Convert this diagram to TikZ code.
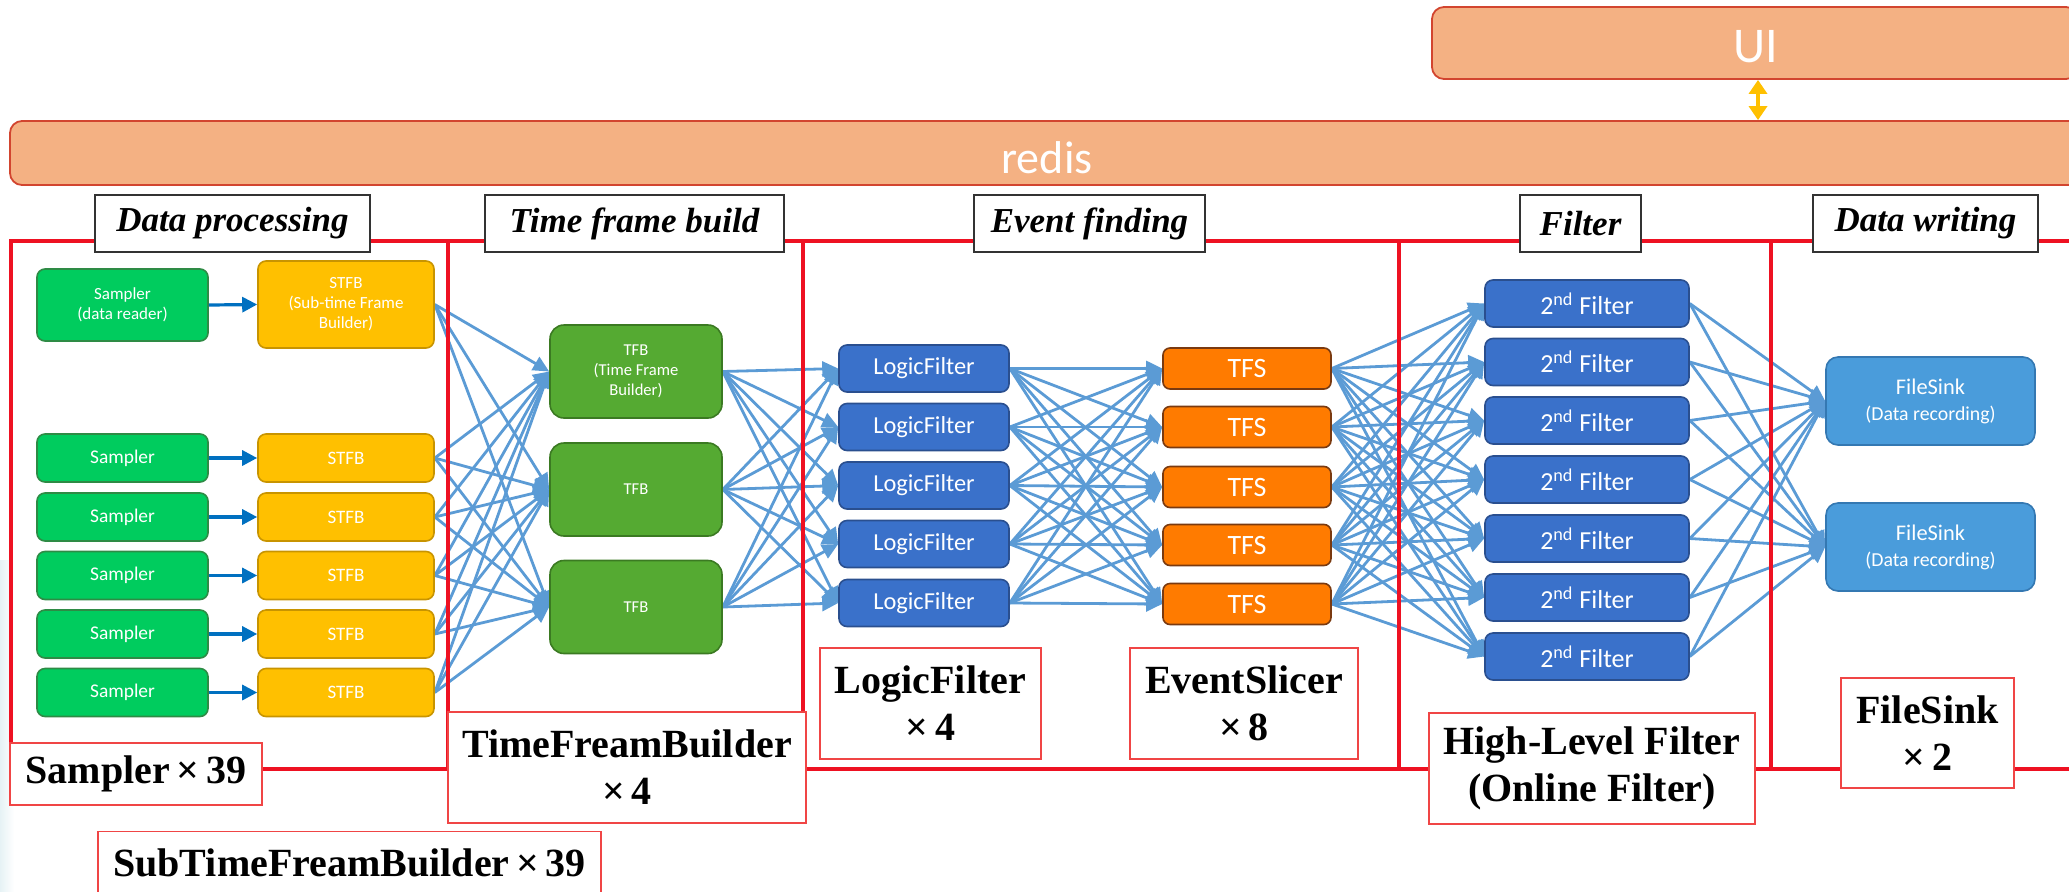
\documentclass[tikz,border=0pt]{standalone}
\usepackage{fontspec}
\setmainfont{Liberation Serif}
\newfontfamily\nodefont{Carlito}
\usetikzlibrary{arrows.meta}
\pgfdeclarelayer{wires}
\pgfdeclarelayer{frame}
\pgfsetlayers{wires,frame,main}

\definecolor{busfill}{HTML}{F4B183}
\definecolor{busline}{HTML}{D2452F}
\definecolor{ygold}{HTML}{FFC000}
\definecolor{sgreen}{HTML}{00CC5E}
\definecolor{sgreenD}{HTML}{2E8B45}
\definecolor{stfbfill}{HTML}{FFC000}
\definecolor{stfbline}{HTML}{C89400}
\definecolor{tgreen}{HTML}{55AA32}
\definecolor{tgreenD}{HTML}{3B7A22}
\definecolor{lblue}{HTML}{3A71CA}
\definecolor{lblueD}{HTML}{2A4F8F}
\definecolor{tfsfill}{HTML}{FF7B00}
\definecolor{tfsline}{HTML}{7A3A10}
\definecolor{fsfill}{HTML}{4A9CDB}
\definecolor{fsline}{HTML}{3478B2}
\definecolor{wire}{HTML}{5B9BD5}
\definecolor{darkwire}{HTML}{0070C0}
\definecolor{framered}{HTML}{EE1122}
\definecolor{labelred}{HTML}{F04545}
\definecolor{edgehaze}{HTML}{E6F2F5}

\tikzset{
  box/.style={rounded corners=4pt, draw, line width=0.8pt, text=white,
    align=center, inner sep=0pt},
  sampler/.style={box, fill=sgreen, draw=sgreenD, minimum width=85.5pt,
    minimum height=24pt, font=\nodefont\fontsize{9.7}{10}\selectfont},
  stfb/.style={box, fill=stfbfill, draw=stfbline, minimum width=88pt,
    minimum height=24pt, font=\nodefont\fontsize{9.5}{10}\selectfont},
  tfb/.style={box, rounded corners=7pt, fill=tgreen, draw=tgreenD,
    minimum width=86pt, minimum height=46.5pt,
    font=\nodefont\fontsize{8.3}{10}\selectfont},
  logic/.style={box, fill=lblue, draw=lblueD, minimum width=85pt,
    minimum height=23.5pt, font=\nodefont\fontsize{12.2}{14}\selectfont},
  tfs/.style={box, rounded corners=3.5pt, fill=tfsfill, draw=tfsline,
    minimum width=84pt, minimum height=20.5pt,
    font=\nodefont\fontsize{14}{16}\selectfont},
  hlf/.style={box, fill=lblue, draw=lblueD, minimum width=102pt,
    minimum height=23.5pt, font=\nodefont\fontsize{13}{15}\selectfont},
  sink/.style={box, rounded corners=6pt, fill=fsfill, draw=fsline,
    minimum width=104.5pt, minimum height=44pt},
  bus/.style={rounded corners=6pt, draw=busline, line width=0.9pt,
    fill=busfill, text=white, inner sep=0pt},
  conn/.style={wire, line width=1.4pt,
    -{Triangle[length=8pt,width=7.5pt]}},
  feed/.style={darkwire, line width=1.6pt,
    -{Triangle[length=7.5pt,width=7.5pt]}},
  redline/.style={framered, line width=1.8pt},
  titlebox/.style={draw=black!80, line width=1pt, fill=white,
    minimum height=28.5pt, inner sep=0pt,
    font=\fontsize{17.5}{20}\selectfont\bfseries\itshape},
  labelbox/.style={draw=labelred, line width=0.8pt, fill=white,
    inner sep=0pt, align=center,
    font=\fontsize{20}{23.5}\selectfont\bfseries}
}

\begin{document}
\begin{tikzpicture}[x=0.5pt,y=-0.5pt]
\useasboundingbox (0,0) rectangle (2069,891);

% faint tint along the left edge
\begin{pgfonlayer}{wires}
  \shade[left color=edgehaze, right color=white] (0,560) rectangle (14,891);
\end{pgfonlayer}

% message bus and user interface
\node[bus, minimum width=1037pt, minimum height=32pt] (redis) at (1047,153) {};
\node[text=white, font=\nodefont\fontsize{23}{26}\selectfont] (redistxt) at (1047,158) {redis};
\node[bus, minimum width=323pt, minimum height=36pt] (ui) at (1755,43) {};
\node[text=white, font=\nodefont\fontsize{25}{28}\selectfont] (uitxt) at (1756,47) {UI};
\coordinate (ax) at (1758,0);
\draw[ygold, line width=2.2pt,
  {Triangle[length=7pt,width=9pt]}-{Triangle[length=7pt,width=9pt]}]
  (ui.south -| ax) -- (redis.north -| ax);

% samplers and sub-time-frame builders
\node[sampler, minimum height=36pt, font=\nodefont\fontsize{8.5}{10}\selectfont]
  (s1) at (122.5,305) {Sampler\\(data reader)};
\node[stfb, minimum height=43.5pt, font=\nodefont\fontsize{8.5}{10}\selectfont]
  (st1) at (346,304.5) {STFB\\(Sub-time Frame\\Builder)};
\foreach \i/\y in {2/458,3/517,4/575.5,5/634,6/692.5}{
  \node[sampler] (s\i) at (122.5,\y) {Sampler};
  \node[stfb] (st\i) at (346,\y) {STFB};
}

% time frame builders
\node[tfb] (tfb1) at (636,371.5) {TFB\\(Time Frame\\Builder)};
\node[tfb] (tfb2) at (636,489.5) {TFB};
\node[tfb] (tfb3) at (636,607) {TFB};

% logic filters and time frame slicers
\foreach \i/\y in {1/368.5,2/427,3/485.5,4/544,5/603}
  \node[logic] (lf\i) at (924,\y) {LogicFilter};
\foreach \i/\y in {1/368.5,2/427,3/487,4/545,5/604}
  \node[tfs] (tfs\i) at (1247,\y) {TFS};

% high-level filters
\foreach \i/\y in {1/303.5,2/362,3/420.5,4/479.5,5/538.5,6/597.5,7/656.5}
  \node[hlf] (hf\i) at (1587,\y) {2\textsuperscript{nd} Filter};

% file sinks
\foreach \i/\y in {1/401,2/547}
  \node[sink] (fs\i) at (1930.5,\y)
    {{\nodefont\fontsize{11.2}{13}\selectfont FileSink}\\[1pt]
     {\nodefont\fontsize{9.9}{12}\selectfont (Data recording)}};

% sampler to STFB links
\foreach \i in {1,...,6}
  \draw[feed] (s\i.east) -- (st\i.west);

% data-flow mesh between stages
\begin{pgfonlayer}{wires}
  \foreach \i in {1,...,6}
    \foreach \j in {1,2,3}
      \draw[conn] (st\i.east) -- (tfb\j.west);
  \foreach \i in {1,2,3}
    \foreach \j in {1,...,5}
      \draw[conn] (tfb\i.east) -- (lf\j.west);
  \foreach \i in {1,...,5}
    \foreach \j in {1,...,5}
      \draw[conn] (lf\i.east) -- (tfs\j.west);
  \foreach \i in {1,...,5}
    \foreach \j in {1,...,7}
      \draw[conn] (tfs\i.east) -- (hf\j.west);
  \foreach \i in {1,...,7}
    \foreach \j in {1,2}
      \draw[conn] (hf\i.east) -- (fs\j.west);
\end{pgfonlayer}

% stage frame
\begin{pgfonlayer}{frame}
  \draw[redline] (11,241) rectangle (2100,769);
  \foreach \x in {448,803,1399,1771}
    \draw[redline] (\x,241) -- (\x,769);
\end{pgfonlayer}

% stage titles
\node[titlebox, minimum width=137.5pt] (t1) at (232.5,223.5) {Data processing};
\node[titlebox, minimum width=149.5pt] (t2) at (634.5,223.5) {Time frame build};
\node[titlebox, minimum width=115.5pt] (t3) at (1089.5,223.5) {Event finding};
\node[titlebox, minimum width=60.5pt] (t4) at (1580.5,223.5) {Filter};
\node[titlebox, minimum width=112.5pt] (t5) at (1925.5,223.5) {Data writing};

% process counts
\node[labelbox, minimum width=126pt, minimum height=31pt]
  (c1) at (136,774) {Sampler\,×\,39};
\node[labelbox, minimum width=179pt, minimum height=55.5pt]
  (c2) at (627,767.5) {TimeFreamBuilder\\×\,4};
\node[labelbox, minimum width=251.5pt, minimum height=31.5pt]
  (c3) at (349.5,863) {SubTimeFreamBuilder\,×\,39};
\node[labelbox, minimum width=110.5pt, minimum height=55.5pt]
  (c4) at (930.5,703.5) {LogicFilter\\×\,4};
\node[labelbox, minimum width=114pt, minimum height=55.5pt]
  (c5) at (1244,703.5) {EventSlicer\\×\,8};
\node[labelbox, minimum width=163pt, minimum height=55.5pt]
  (c6) at (1592,768.5) {High-Level Filter\\(Online Filter)};
\node[labelbox, minimum width=86.5pt, minimum height=55pt]
  (c7) at (1927.5,733) {FileSink\\×\,2};
\end{tikzpicture}
\end{document}
